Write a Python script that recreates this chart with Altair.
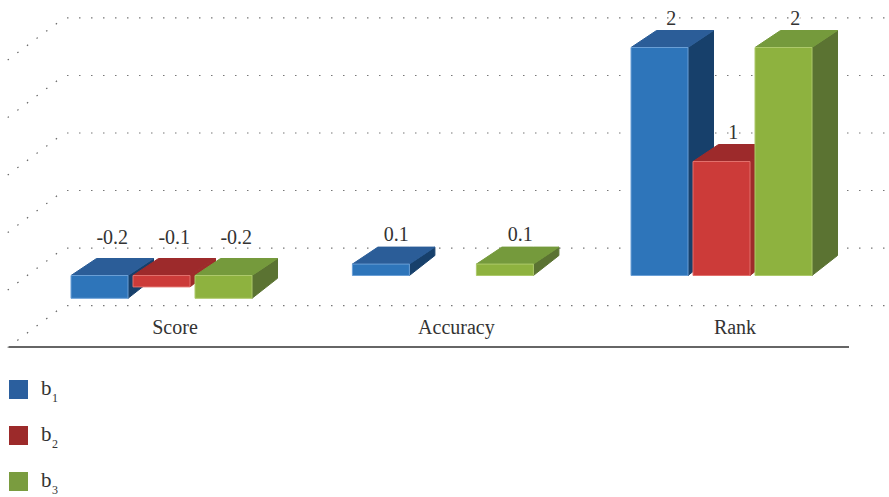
import altair as alt
import pandas as pd

# Chart values
categories = ["Score", "Accuracy", "Rank"]
category_pos = [0, 1.005, 2]
series = ["1", "2", "3"]
b1 = [-0.2, 0.1, 2]
b2 = [-0.1, None, 1]
b3 = [-0.2, 0.1, 2]
grid_levels = [-0.5, 0, 0.5, 1, 1.5, 2]

# Face colours per series
front_fill = ["#2e75ba", "#cc3b39", "#8eb23f"]
front_edge = ["#6a9fd6", "#e2706c", "#adc96b"]
top_fill = ["#2b5d98", "#9d2a2b", "#759a3c"]
side_fill = ["#17406b", "#9e2b2a", "#5b7332"]
legend_fill = ["#2b5f9e", "#9c2a2a", "#7a9c3f"]

FONT = "Liberation Serif"
INK = "#333333"
W, H = 889, 497

# Value and category units, and how many pixels one unit spans
PX_PER_CAT, CAT0 = 280.0, 175.0
PX_PER_VAL, VAL0 = 114.0, 275.5
x_scale = alt.Scale(domain=[-CAT0 / PX_PER_CAT, (W - CAT0) / PX_PER_CAT], nice=False, zero=False)
y_scale = alt.Scale(domain=[(VAL0 - H) / PX_PER_VAL, VAL0 / PX_PER_VAL], nice=False, zero=False)

# Oblique projection of a bar's depth, with slight perspective at the foot
BAR_W = 57.0 / PX_PER_CAT
BAR_STEP = 62.0 / PX_PER_CAT
BAR_START = -104.0 / PX_PER_CAT
DX = 25.5 / PX_PER_CAT
DY_TOP = 17.0 / PX_PER_VAL
DY_FOOT = 20.0 / PX_PER_VAL
LABEL_NUDGE = [0, 2.5 / PX_PER_CAT, -1 / PX_PER_CAT]


def X(field):
    return alt.X(field, type="quantitative", scale=x_scale, axis=None)


def Y(field):
    return alt.Y(field, type="quantitative", scale=y_scale, axis=None, stack=None)


def face_layer(points, fill, edge):
    df = pd.DataFrame(points, columns=["px", "hi", "lo"])
    return (
        alt.Chart(df)
        .mark_area(fill=fill, stroke=edge, strokeWidth=1, interpolate="linear", opacity=1, orient="vertical")
        .encode(x=X("px"), y=Y("hi"), y2="lo")
    )


def bar_layers(cat, k, value):
    left = category_pos[cat] + BAR_START + k * BAR_STEP
    right = left + BAR_W
    top = max(value, 0)
    foot = min(value, 0)
    return [
        face_layer([
            (right, top, foot),
            (right + DX, top + DY_TOP, foot + DY_FOOT),
        ], side_fill[k], side_fill[k]),
        face_layer([
            (left, top, top),
            (left + DX, top + DY_TOP, top),
            (right, top + DY_TOP, top),
            (right + DX, top + DY_TOP, top + DY_TOP),
        ], top_fill[k], top_fill[k]),
        face_layer([
            (left, top, foot),
            (right, top, foot),
        ], front_fill[k], front_edge[k]),
    ]


layers = []

# Back-wall gridlines with their receding floor-side dots
wall = [lv * 1.009 + 0.241 for lv in grid_levels]
grid_df = pd.DataFrame({
    "y": wall,
    "x": [(67 - CAT0) / PX_PER_CAT] * len(wall),
    "x2": [(886 - CAT0) / PX_PER_CAT] * len(wall),
})
layers.append(
    alt.Chart(grid_df)
    .mark_rule(color="#777777", strokeWidth=1.2, strokeDash=[1.5, 10.5])
    .encode(x=X("x"), x2="x2", y=Y("y"))
)
diag_df = pd.DataFrame({
    "x": [(57 - CAT0) / PX_PER_CAT] * len(wall),
    "x2": [(6 - CAT0) / PX_PER_CAT] * len(wall),
    "y": [w - 5.3 / PX_PER_VAL for w in wall],
    "y2": [w - 43.3 / PX_PER_VAL for w in wall],
})
layers.append(
    alt.Chart(diag_df)
    .mark_rule(color="#666666", strokeWidth=1.2, strokeDash=[1.5, 10.5])
    .encode(x=X("x"), x2="x2", y=Y("y"), y2="y2")
)

# Bars, left to right so each one overlaps its neighbour's side
for k, vals in enumerate([b1, b2, b3]):
    for cat, v in enumerate(vals):
        if v is not None:
            layers.extend(bar_layers(cat, k, v))

# Value labels, knocked out of the gridlines by a white halo
label_rows = []
for k, vals in enumerate([b1, b2, b3]):
    for cat, v in enumerate(vals):
        if v is None:
            continue
        x = category_pos[cat] + BAR_START + k * BAR_STEP + (BAR_W + DX) / 2 + LABEL_NUDGE[cat]
        y = v + 29 / PX_PER_VAL if v > 0 else 37.5 / PX_PER_VAL
        label_rows.append(dict(x=x, y=y, text=f"{v:g}"))
labels = pd.DataFrame(label_rows)
for halo in (True, False):
    extra = dict(stroke="white", strokeWidth=3.5) if halo else {}
    layers.append(
        alt.Chart(labels)
        .mark_text(font=FONT, fontSize=20, color=INK, baseline="middle", align="center", **extra)
        .encode(x=X("x"), y=Y("y"), text="text:N")
    )

# Category labels under the floor
cat_df = pd.DataFrame({"x": category_pos, "name": categories})
layers.append(
    alt.Chart(cat_df)
    .mark_text(font=FONT, fontSize=20, color=INK, baseline="middle", align="center")
    .encode(x=X("x"), y=alt.value(328), text="name:N")
)

# Baseline rule
layers.append(
    alt.Chart(pd.DataFrame({"a": [0]}))
    .mark_rule(color="#666666", strokeWidth=2)
    .encode(x=alt.value(9), x2=alt.value(849), y=alt.value(347))
)

# Legend column: swatch, letter and subscript
for i, s in enumerate(series):
    top = 380 + 46 * i
    one = alt.Chart(pd.DataFrame({"a": [0]}))
    layers.append(
        one.mark_rect(color=legend_fill[i]).encode(
            x=alt.value(9), x2=alt.value(28), y=alt.value(top), y2=alt.value(top + 19)
        )
    )
    layers.append(
        one.mark_text(font=FONT, fontSize=21, color=INK, align="left", baseline="alphabetic", text="b").encode(
            x=alt.value(41), y=alt.value(top + 15)
        )
    )
    layers.append(
        one.mark_text(font=FONT, fontSize=12, color=INK, align="left", baseline="alphabetic", text=s).encode(
            x=alt.value(52), y=alt.value(top + 22)
        )
    )

chart = (
    alt.layer(*layers)
    .properties(width=W, height=H, padding=0, autosize=alt.AutoSizeParams(type="none"), background="white")
    .configure_view(stroke=None)
)

chart.save("out.html", embed_options={"renderer": "svg", "actions": False})
